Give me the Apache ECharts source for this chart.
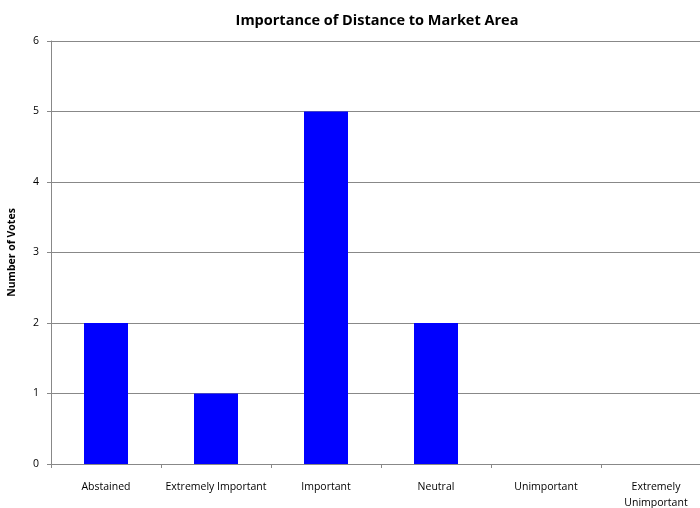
<!DOCTYPE html>
<html>
<head>
<meta charset="utf-8">
<script src="https://cdn.jsdelivr.net/npm/echarts@6/dist/echarts.min.js"></script>
<style>
  html, body { margin: 0; padding: 0; background: #fff; }
  #chart { width: 700px; height: 508px; }
</style>
</head>
<body>
<div id="chart"></div>
<script>
const categories = ['Abstained', 'Extremely Important', 'Important', 'Neutral', 'Unimportant', 'Extremely\nUnimportant'];
const votes = [2, 1, 5, 2, 0, 0];
const yTicks = [0, 1, 2, 3, 4, 5, 6];

const chart = echarts.init(document.getElementById('chart'));
const font = '"Open Sans", "Noto Sans", sans-serif';

chart.setOption({
  animation: false,
  title: {
    text: 'Importance of Distance to Market Area',
    left: 372,
    top: 8,
    textAlign: 'center',
    textStyle: { fontFamily: font, fontSize: 14.5, fontWeight: 'bold', color: '#000' }
  },
  grid: { left: 51, top: 41, width: 660, height: 423, outerBoundsMode: 'none', containLabel: false },
  xAxis: {
    type: 'category',
    data: categories,
    axisLine: { lineStyle: { color: '#888', width: 1 } },
    axisTick: { show: true, length: 4, alignWithLabel: false, lineStyle: { color: '#888' } },
    axisLabel: { fontFamily: font, fontSize: 10.5, color: '#000', margin: 15, interval: 0, lineHeight: 16 }
  },
  yAxis: {
    type: 'value',
    min: yTicks[0],
    max: yTicks[yTicks.length - 1],
    interval: 1,
    name: 'Number of Votes',
    nameLocation: 'middle',
    nameGap: 33,
    nameRotate: 90,
    nameTextStyle: { fontFamily: font, fontSize: 10.5, fontWeight: 'bold', color: '#000' },
    axisLine: { show: true, lineStyle: { color: '#888', width: 1 } },
    axisTick: { show: true, length: 4, lineStyle: { color: '#888' } },
    axisLabel: { fontFamily: font, fontSize: 10.5, color: '#000', margin: 12 },
    splitLine: { lineStyle: { color: '#888', width: 1 } }
  },
  series: [{
    type: 'bar',
    data: votes,
    barWidth: '40%',
    itemStyle: { color: '#0000ff' }
  }]
});
</script>
</body>
</html>
